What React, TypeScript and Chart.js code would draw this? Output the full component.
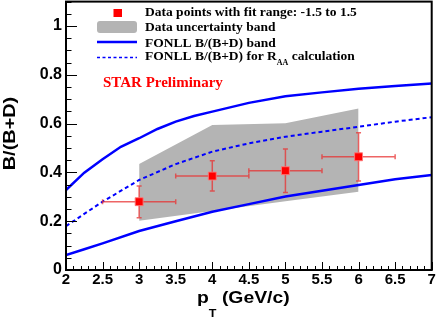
import React, { useEffect, useRef } from "react";
import { Chart, registerables } from "chart.js";

Chart.register(...registerables);

// ---- data ----
const X_TICKS = [2, 2.5, 3, 3.5, 4, 4.5, 5, 5.5, 6, 6.5, 7];
const Y_TICKS = [0, 0.2, 0.4, 0.6, 0.8, 1];

const PT = [3, 4, 5, 6];
const RATIO = [0.28, 0.385, 0.407, 0.464];
const ERR_X = [0.5, 0.5, 0.5, 0.5];
const ERR_Y_UP = [0.064, 0.063, 0.089, 0.099];
const ERR_Y_DOWN = [0.066, 0.061, 0.089, 0.099];

const BAND_X = [3, 4, 5, 6];
const BAND_LOW = [0.202, 0.242, 0.282, 0.321];
const BAND_HIGH = [0.434, 0.594, 0.601, 0.662];

const FONLL_HIGH_X = [2, 2.25, 2.5, 2.75, 3, 3.25, 3.5, 3.75, 4, 4.5, 5, 5.5, 6, 6.5, 7];
const FONLL_HIGH = [0.328, 0.399, 0.454, 0.505, 0.54, 0.578, 0.608, 0.631, 0.649, 0.685, 0.712, 0.728, 0.743, 0.754, 0.764];

const FONLL_LOW_X = [2, 2.25, 2.5, 3, 3.5, 4, 4.5, 5, 5.5, 6, 6.5, 7];
const FONLL_LOW = [0.061, 0.085, 0.109, 0.16, 0.2, 0.239, 0.27, 0.301, 0.325, 0.348, 0.372, 0.389];

const FONLL_MID_X = [2, 2.5, 3, 3.5, 4, 4.5, 5, 5.5, 6, 6.5, 7];
const FONLL_MID = [0.18, 0.28, 0.369, 0.434, 0.485, 0.519, 0.546, 0.567, 0.587, 0.608, 0.626];

const LEGEND_TEXT = [
  "Data points with fit range: -1.5 to 1.5",
  "Data uncertainty band",
  "FONLL B/(B+D) band",
];
const LEGEND_LAST = ["FONLL B/(B+D) for R", "AA", " calculation"];
const STAR_LABEL = "STAR Preliminary";
const Y_TITLE = "B/(B+D)";
const X_TITLE = ["p", "T", " (GeV/c)"];

const SANS = "'Liberation Sans', Arial, Helvetica, sans-serif";
const SERIF = "'Liberation Serif', 'Times New Roman', serif";
const BLUE = "#0000ff";
const RED = "#ff0000";
const GRAY = "#b4b4b4";

const xy = (xs: number[], ys: number[]) => xs.map((x, i) => ({ x, y: ys[i] }));

const errorBars = {
  id: "errorBars",
  beforeDatasetDraw(chart: any, args: any) {
    if (args.index !== 0) return;
    const { ctx, scales } = chart;
    const xs = scales.x;
    const ys = scales.y;
    ctx.save();
    ctx.strokeStyle = "rgba(232,50,50,0.75)";
    ctx.lineWidth = 1.5;
    const cap = 2.5;
    PT.forEach((x, i) => {
      const px = xs.getPixelForValue(x);
      const py = ys.getPixelForValue(RATIO[i]);
      const x0 = xs.getPixelForValue(x - ERR_X[i]);
      const x1 = xs.getPixelForValue(x + ERR_X[i]);
      const y0 = ys.getPixelForValue(RATIO[i] - ERR_Y_DOWN[i]);
      const y1 = ys.getPixelForValue(RATIO[i] + ERR_Y_UP[i]);
      ctx.beginPath();
      ctx.moveTo(x0, py);
      ctx.lineTo(x1, py);
      ctx.moveTo(px, y0);
      ctx.lineTo(px, y1);
      ctx.moveTo(x0, py - cap);
      ctx.lineTo(x0, py + cap);
      ctx.moveTo(x1, py - cap);
      ctx.lineTo(x1, py + cap);
      ctx.moveTo(px - cap, y0);
      ctx.lineTo(px + cap, y0);
      ctx.moveTo(px - cap, y1);
      ctx.lineTo(px + cap, y1);
      ctx.stroke();
    });
    ctx.restore();
  },
};

const decorations = {
  id: "decorations",
  afterDraw(chart: any) {
    const { ctx, chartArea, scales } = chart;
    const xs = scales.x;
    const ys = scales.y;
    const { left, right, top, bottom } = chartArea;
    ctx.save();
    // ticks inside
    ctx.strokeStyle = "#000";
    ctx.lineWidth = 1;
    ctx.beginPath();
    for (let i = 0; i <= 22; i++) {
      const v = i * 0.05;
      const py = Math.round(ys.getPixelForValue(v)) + 0.5;
      const len = i % 4 === 0 ? 11 : 5.5;
      ctx.moveTo(left, py);
      ctx.lineTo(left + len, py);
    }
    for (let i = 0; i <= 50; i++) {
      const v = 2 + i * 0.1;
      const px = Math.round(xs.getPixelForValue(v)) + 0.5;
      const len = i % 5 === 0 ? 8 : 4;
      ctx.moveTo(px, bottom);
      ctx.lineTo(px, bottom - len);
    }
    ctx.stroke();
    // frame
    ctx.lineWidth = 2;
    ctx.strokeRect(left, top, right - left, bottom - top);

    // legend
    ctx.fillStyle = RED;
    ctx.fillRect(113.5, 9, 8.5, 8);
    ctx.fillStyle = GRAY;
    ctx.beginPath();
    if ((ctx as any).roundRect) (ctx as any).roundRect(97, 21, 40, 12, 3);
    else ctx.rect(97, 21, 40, 12);
    ctx.fill();
    ctx.strokeStyle = BLUE;
    ctx.lineWidth = 2.5;
    ctx.beginPath();
    ctx.moveTo(97, 42);
    ctx.lineTo(137, 42);
    ctx.stroke();
    ctx.lineWidth = 1.5;
    ctx.setLineDash([3, 2.5]);
    ctx.beginPath();
    ctx.moveTo(97, 57.5);
    ctx.lineTo(137, 57.5);
    ctx.stroke();
    ctx.setLineDash([]);

    ctx.fillStyle = "#000";
    ctx.font = `bold 13.5px ${SERIF}`;
    ctx.textAlign = "left";
    ctx.textBaseline = "alphabetic";
    const baselines = [15.5, 31, 46.5];
    LEGEND_TEXT.forEach((t, i) => ctx.fillText(t, 145, baselines[i]));
    let lx = 145;
    ctx.fillText(LEGEND_LAST[0], lx, 60);
    lx += ctx.measureText(LEGEND_LAST[0]).width;
    ctx.font = `bold 8px ${SERIF}`;
    ctx.fillText(LEGEND_LAST[1], lx, 65);
    lx += ctx.measureText(LEGEND_LAST[1]).width;
    ctx.font = `bold 13.5px ${SERIF}`;
    ctx.fillText(LEGEND_LAST[2], lx, 60);

    ctx.fillStyle = RED;
    ctx.font = `bold 15px ${SERIF}`;
    ctx.fillText(STAR_LABEL, 103, 87);

    // y title
    ctx.fillStyle = "#000";
    ctx.save();
    ctx.translate(15, 133.5);
    ctx.rotate(-Math.PI / 2);
    ctx.scale(1.17, 1);
    ctx.font = `bold 17px ${SANS}`;
    ctx.textAlign = "center";
    ctx.fillText(Y_TITLE, 0, 0);
    ctx.restore();

    // x title
    ctx.save();
    ctx.translate(197, 0);
    ctx.scale(1.14, 1);
    ctx.textAlign = "left";
    let tx = 0;
    ctx.font = `bold 17px ${SANS}`;
    ctx.fillText(X_TITLE[0], tx, 303);
    tx += ctx.measureText(X_TITLE[0]).width;
    ctx.font = `bold 11px ${SANS}`;
    ctx.fillText(X_TITLE[1], tx, 316.5);
    tx += ctx.measureText(X_TITLE[1]).width;
    ctx.font = `bold 17px ${SANS}`;
    ctx.fillText(X_TITLE[2], tx, 303);
    ctx.restore();

    ctx.restore();
  },
};

export default function App() {
  const ref = useRef<HTMLCanvasElement>(null);
  useEffect(() => {
    document.body.style.margin = "0";
    const canvas = ref.current;
    if (!canvas) return;
    const chart = new Chart(canvas, {
      type: "line",
      data: {
        datasets: [
          {
            label: "Data points",
            data: xy(PT, RATIO),
            showLine: false,
            pointStyle: "rect",
            pointRadius: 5.6,
            pointBackgroundColor: RED,
            pointBorderColor: "rgba(255,120,120,0.9)",
            pointBorderWidth: 1,
            order: 1,
          },
          {
            label: "FONLL high",
            data: xy(FONLL_HIGH_X, FONLL_HIGH),
            borderColor: BLUE,
            borderWidth: 2.5,
            pointRadius: 0,
            fill: false,
            order: 2,
          },
          {
            label: "FONLL low",
            data: xy(FONLL_LOW_X, FONLL_LOW),
            borderColor: BLUE,
            borderWidth: 2.5,
            pointRadius: 0,
            fill: false,
            order: 2,
          },
          {
            label: "FONLL central",
            data: xy(FONLL_MID_X, FONLL_MID),
            borderColor: BLUE,
            borderWidth: 2,
            borderDash: [4, 3],
            pointRadius: 0,
            fill: false,
            order: 2,
          },
          {
            label: "Band low",
            data: xy(BAND_X, BAND_LOW),
            borderColor: "rgba(0,0,0,0)",
            borderWidth: 1,
            pointRadius: 0,
            fill: false,
            order: 5,
          },
          {
            label: "Band high",
            data: xy(BAND_X, BAND_HIGH),
            borderColor: "rgba(0,0,0,0)",
            backgroundColor: GRAY,
            borderWidth: 1,
            pointRadius: 0,
            fill: { target: 4 },
            order: 5,
          },
        ],
      } as any,
      options: {
        animation: false,
        responsive: false,
        events: [],
        layout: { autoPadding: false, padding: { top: 1.6, right: 4.3, left: 0, bottom: 0 } },
        plugins: {
          legend: { display: false },
          tooltip: { enabled: false },
        },
        scales: {
          x: {
            type: "linear",
            min: 2,
            max: 7,
            afterBuildTicks: (s: any) => {
              s.ticks = X_TICKS.map((v) => ({ value: v }));
            },
            afterFit: (s: any) => {
              s.height = 48;
              s.paddingLeft = 0;
              s.paddingRight = 0;
            },
            grid: { display: false, drawTicks: false },
            border: { display: false },
            ticks: {
              autoSkip: false,
              maxRotation: 0,
              padding: 1,
              color: "#000",
              font: { family: SANS, size: 15, weight: "bold" },
              callback: (v: any) => String(v),
            },
          },
          y: {
            type: "linear",
            min: 0,
            max: 1.1,
            afterBuildTicks: (s: any) => {
              s.ticks = Y_TICKS.map((v) => ({ value: v }));
            },
            afterFit: (s: any) => {
              s.width = 66;
              s.paddingTop = 0;
              s.paddingBottom = 0;
            },
            grid: { display: false, drawTicks: false },
            border: { display: false },
            ticks: {
              padding: 4,
              color: "#000",
              font: { family: SANS, size: 16, weight: "bold" },
              callback: (v: any) => String(v),
            },
          },
        },
      } as any,
      plugins: [errorBars, decorations],
    });
    return () => chart.destroy();
  }, []);
  return (
    <div style={{ width: 436, height: 318 }}>
      <canvas ref={ref} width={436} height={318} style={{ display: "block" }} />
    </div>
  );
}
